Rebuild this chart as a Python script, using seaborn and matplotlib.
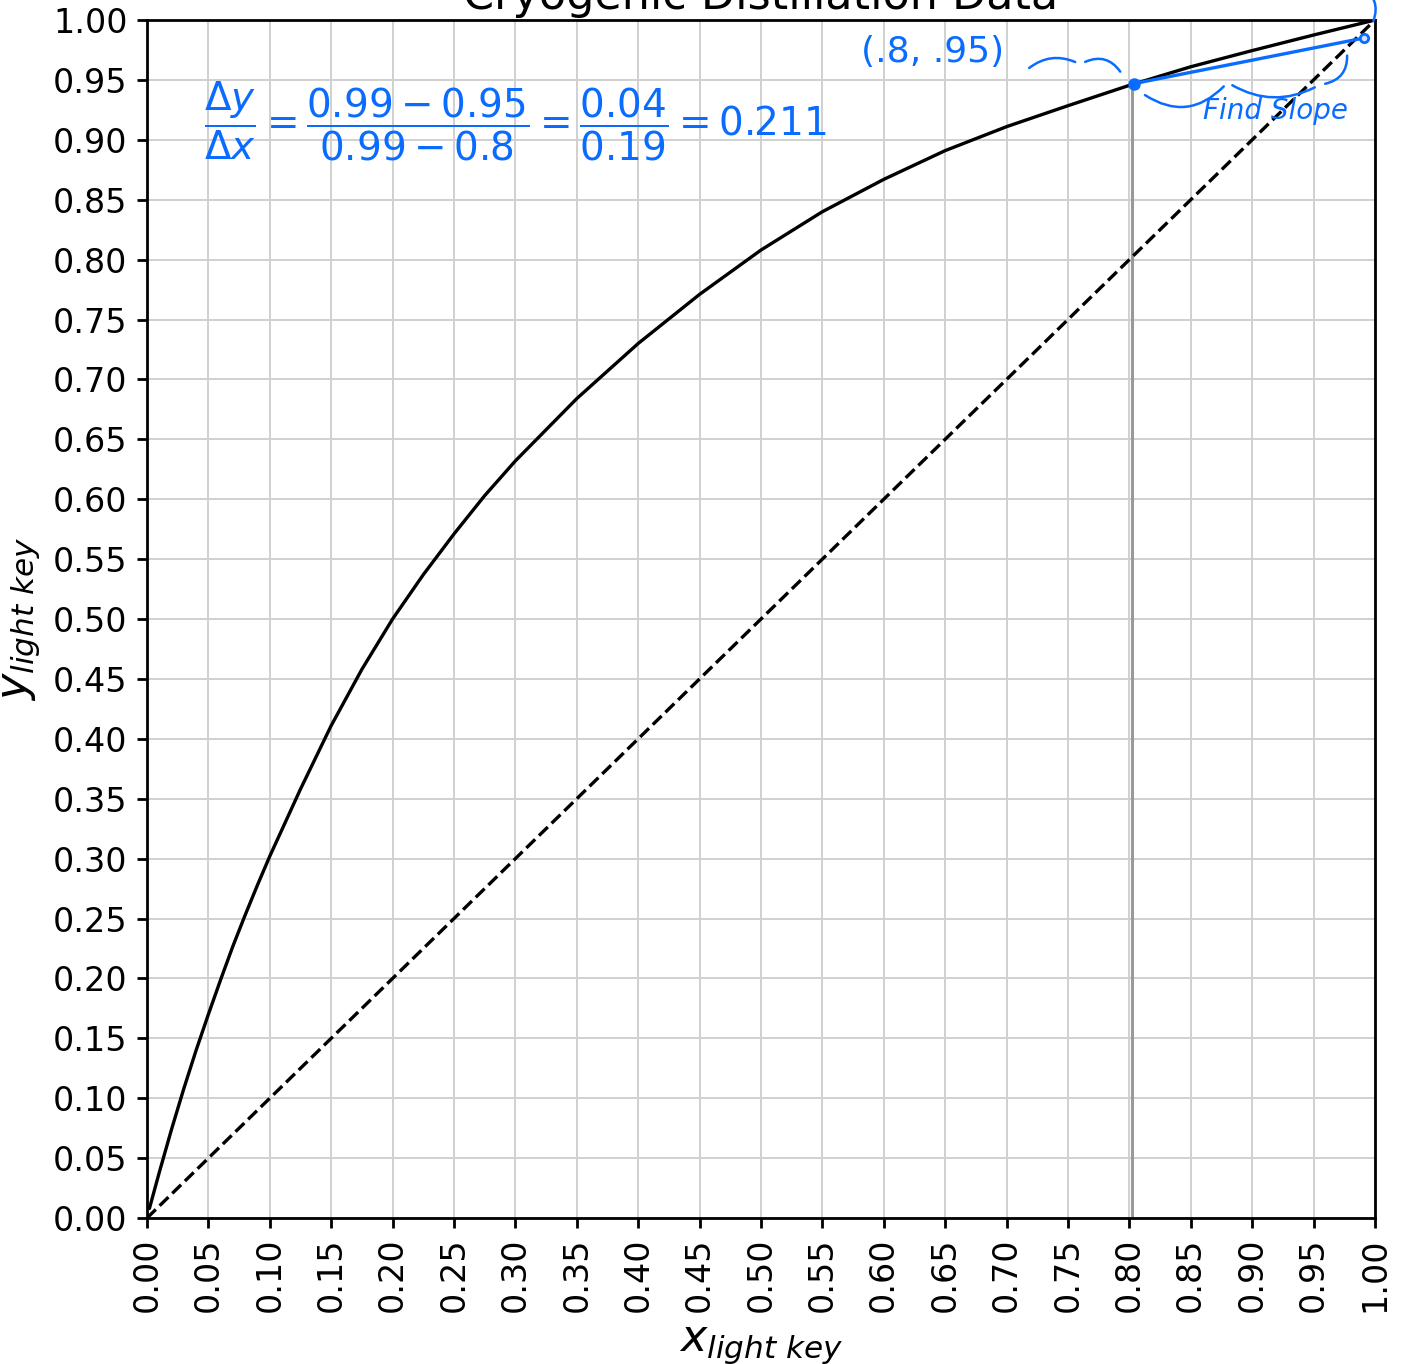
import numpy as np
import pandas as pd
import seaborn as sns
import matplotlib
matplotlib.use("Agg")
import matplotlib.pyplot as plt

# equilibrium curve (x_light key, y_light key)
x_light = [0.002, 0.01, 0.02, 0.03, 0.04, 0.05, 0.06, 0.07, 0.08, 0.09,
           0.10, 0.125, 0.15, 0.175, 0.20, 0.225, 0.25, 0.275, 0.30,
           0.35, 0.40, 0.45, 0.50, 0.55, 0.60, 0.65, 0.70, 0.75, 0.80,
           0.85, 0.90, 0.95, 1.00]
y_light = [0.008, 0.038, 0.074, 0.108, 0.140, 0.170, 0.199, 0.227, 0.253, 0.278,
           0.302, 0.358, 0.411, 0.458, 0.500, 0.537, 0.571, 0.603, 0.632,
           0.684, 0.730, 0.771, 0.808, 0.840, 0.867, 0.891, 0.911, 0.9285, 0.9455,
           0.961, 0.9745, 0.9875, 1.000]

# y = x reference line
diag_x = [0.0, 1.0]
diag_y = [0.0, 1.0]

# feed line and hand-drawn slope segment
feed_x = 0.802
slope_x = [0.804, 0.991]
slope_y = [0.947, 0.985]

hand_blue = "#0a6cff"

sns.set_style("ticks", {"axes.edgecolor": "black", "xtick.color": "black",
                        "ytick.color": "black", "text.color": "black",
                        "axes.labelcolor": "black"})
plt.rcParams["font.family"] = ["DejaVu Sans"]

curve = pd.DataFrame({"x": x_light, "y": y_light})
diag = pd.DataFrame({"x": diag_x, "y": diag_y})

fig = plt.figure(figsize=(7.025, 6.82), dpi=200)
ax = fig.add_axes([0.1046, 0.1070, 0.8740, 0.8783])

ax.grid(True, color="#d0d0d0", linewidth=0.7, zorder=0)
sns.lineplot(data=curve, x="x", y="y", sort=False, color="black", linewidth=1.2, ax=ax, zorder=3)
sns.lineplot(data=diag, x="x", y="y", sort=False, color="black", linewidth=1.2,
             linestyle="--", ax=ax, zorder=3)
ax.vlines(feed_x, 0, np.interp(feed_x, x_light, y_light), color="#999999", linewidth=1.1, zorder=2)

ticks = np.arange(0, 1.0001, 0.05)
ax.set_xticks(ticks)
ax.set_yticks(ticks)
ax.set_xticklabels([f"{t:.2f}" for t in ticks], rotation=90, fontsize=12)
ax.set_yticklabels([f"{t:.2f}" for t in ticks], fontsize=12)
ax.set_xlim(0, 1)
ax.set_ylim(0, 1)
for s in ax.spines.values():
    s.set_linewidth(1.0)
ax.tick_params(width=1.0, length=3.5)

ax.set_xlabel(r"$x_{light\ key}$", fontsize=16)
ax.set_ylabel(r"$y_{light\ key}$", fontsize=16)
ax.set_title("Cryogenic Distillation Data", fontsize=16, pad=4)

# hand-written annotations
ax.plot(slope_x, slope_y, color=hand_blue, linewidth=1.2, zorder=5)
ax.plot(slope_x[0], slope_y[0], "o", color=hand_blue, ms=3.5, zorder=6)
ax.plot(slope_x[1], slope_y[1], "o", color=hand_blue, mfc="#cfe2ff", ms=3, mew=1, zorder=6)

ax.text(0.30, 0.915,
        r"$\dfrac{\Delta y}{\Delta x} = \dfrac{0.99-0.95}{0.99-0.8} = \dfrac{0.04}{0.19} = 0.211$",
        color=hand_blue, fontsize=14, ha="center", va="center", zorder=6)
ax.text(0.64, 0.973, "(.8, .95)", color=hand_blue, fontsize=13, ha="center", va="center")
ax.text(0.919, 0.924, "Find Slope", color=hand_blue, fontsize=10, style="italic",
        ha="center", va="center")

wave = dict(arrowstyle="-", color=hand_blue, lw=0.9)
ax.annotate("", xy=(0.76, 0.963), xytext=(0.715, 0.957),
            arrowprops=dict(wave, connectionstyle="arc3,rad=-0.35"))
ax.annotate("", xy=(0.795, 0.953), xytext=(0.76, 0.963),
            arrowprops=dict(wave, connectionstyle="arc3,rad=-0.5"))
ax.annotate("", xy=(0.88, 0.948), xytext=(0.809, 0.940),
            arrowprops=dict(wave, connectionstyle="arc3,rad=0.45"))
ax.annotate("", xy=(0.955, 0.946), xytext=(0.88, 0.948),
            arrowprops=dict(wave, connectionstyle="arc3,rad=0.3"))
ax.annotate("", xy=(0.977, 0.975), xytext=(0.955, 0.946),
            arrowprops=dict(wave, connectionstyle="arc3,rad=0.5"))
ax.annotate("", xy=(0.985, 1.03), xytext=(0.997, 0.995),
            arrowprops=dict(wave, connectionstyle="arc3,rad=0.5"), annotation_clip=False)

fig.savefig("out.png", dpi=200)
